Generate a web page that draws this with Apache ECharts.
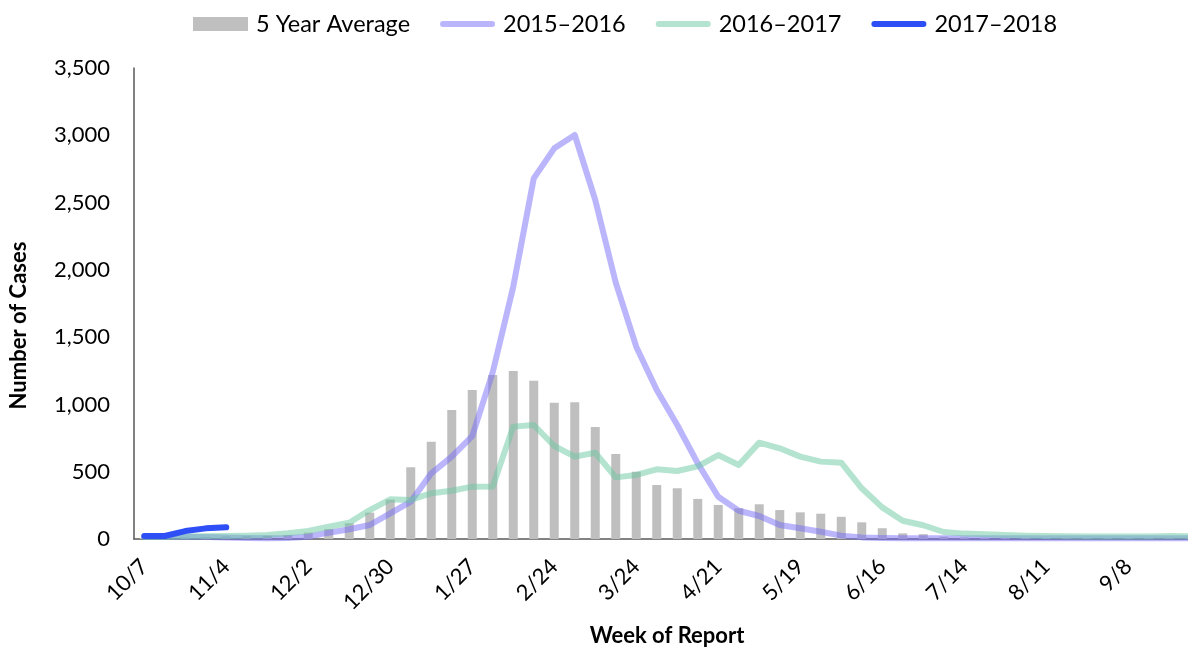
<!DOCTYPE html>
<html>
<head>
<meta charset="utf-8">
<script src="https://cdn.jsdelivr.net/npm/echarts@6/dist/echarts.min.js"></script>
<style>
  html, body { margin: 0; padding: 0; background: #fff; }
  #chart { width: 1188px; height: 650px; }
</style>
</head>
<body>
<div id="chart"></div>
<script>
// week of report (week ending)
const weeks = ['10/7', '10/14', '10/21', '10/28', '11/4', '11/11', '11/18', '11/25', '12/2', '12/9',
  '12/16', '12/23', '12/30', '1/6', '1/13', '1/20', '1/27', '2/3', '2/10', '2/17',
  '2/24', '3/3', '3/10', '3/17', '3/24', '3/31', '4/7', '4/14', '4/21', '4/28',
  '5/5', '5/12', '5/19', '5/26', '6/2', '6/9', '6/16', '6/23', '6/30', '7/7',
  '7/14', '7/21', '7/28', '8/4', '8/11', '8/18', '8/25', '9/1', '9/8', '9/15',
  '9/22', '9/29']

const fiveYearAvg = [8, 10, 12, 15, 18, 20, 25, 30, 47, 74,
  117, 196, 293, 533, 723, 959, 1107, 1219, 1248, 1176,
  1013, 1016, 832, 632, 500, 401, 377, 298, 253, 228,
  258, 215, 198, 188, 165, 124, 80, 42, 36, 17,
  12, 10, 10, 8, 8, 8, 8, 8, 8, 8,
  10, 10]

const season1516 = [15, 15, 15, 15, 12, 8, 5, 8, 17, 47,
  72, 104, 191, 277, 488, 612, 765, 1240, 1875, 2680,
  2903, 3002, 2519, 1905, 1429, 1107, 847, 562, 314, 210,
  171, 104, 80, 54, 25, 12, 8, 6, 5, 5,
  5, 5, 5, 5, 5, 5, 5, 5, 5, 5,
  5, 5]

const season1617 = [15, 15, 18, 20, 22, 25, 30, 42, 59, 91,
  121, 215, 295, 290, 340, 359, 389, 390, 835, 847,
  691, 612, 641, 458, 476, 518, 505, 540, 624, 550,
  716, 674, 612, 575, 567, 377, 235, 136, 102, 52,
  40, 35, 30, 25, 22, 20, 18, 18, 18, 18,
  22, 20]

const season1718 = [22, 22, 59, 79, 87]

const yTicks = { min: 0, max: 3500, interval: 500 }

const font = 'Lato'
// thick rounded line used as the legend swatch of the line series
const lineIcon = 'path://M3,0 H54 A3,3 0 0 1 54,6 H3 A3,3 0 0 1 3,0 Z'

const myChart = echarts.init(document.getElementById('chart'))
const option = {
  animation: false,
  textStyle: { fontFamily: font },
  legend: {
    left: 188,
    top: 7,
    itemWidth: 55,
    itemHeight: 14,
    itemGap: 30,
    textStyle: { fontSize: 23.5, color: '#000', fontFamily: font, padding: [0, 0, 0, 3] },
    data: [
      { name: '5 Year Average', icon: 'rect' },
      { name: '2015–2016', icon: lineIcon },
      { name: '2016–2017', icon: lineIcon },
      { name: '2017–2018', icon: lineIcon }
    ]
  },
  grid: {
    left: 134,
    top: 68,
    width: 1066,
    height: 471,
    containLabel: false,
    outerBoundsMode: 'none'
  },
  xAxis: {
    type: 'category',
    data: weeks,
    boundaryGap: true,
    name: 'Week of Report',
    nameLocation: 'middle',
    nameGap: 86,
    nameTextStyle: { fontSize: 22, fontWeight: 'bold', color: '#000', fontFamily: font },
    axisLine: { lineStyle: { color: '#595959', width: 1.5 } },
    axisTick: { show: false },
    axisLabel: {
      interval: 3,
      rotate: 45,
      margin: 24,
      fontSize: 22,
      color: '#000',
      fontFamily: font
    },
    splitLine: { show: false }
  },
  yAxis: {
    type: 'value',
    min: yTicks.min,
    max: yTicks.max,
    interval: yTicks.interval,
    name: 'Number of Cases',
    nameLocation: 'middle',
    nameGap: 104,
    nameRotate: 90,
    nameTextStyle: { fontSize: 22, fontWeight: 'bold', color: '#000', fontFamily: font, padding: [0, 44, 0, 0] },
    axisLine: { show: true, lineStyle: { color: '#595959', width: 1.5 } },
    axisTick: { show: false },
    axisLabel: {
      margin: 24,
      fontSize: 22,
      color: '#000',
      fontFamily: font,
      formatter: (value) => value.toLocaleString('en-US')
    },
    splitLine: { show: false }
  },
  series: [
    {
      name: '5 Year Average',
      type: 'bar',
      data: fiveYearAvg,
      barWidth: 9,
      itemStyle: { color: '#bfbfbf' },
      z: 1
    },
    {
      name: '2015–2016',
      type: 'line',
      data: season1516,
      symbol: 'none',
      itemStyle: { color: 'rgba(120,110,250,0.5)' },
      lineStyle: { color: 'rgba(120,110,250,0.5)', width: 6, cap: 'round', join: 'round' },
      z: 2
    },
    {
      name: '2016–2017',
      type: 'line',
      data: season1617,
      symbol: 'none',
      itemStyle: { color: 'rgba(105,201,161,0.5)' },
      lineStyle: { color: 'rgba(105,201,161,0.5)', width: 6, cap: 'round', join: 'round' },
      z: 3
    },
    {
      name: '2017–2018',
      type: 'line',
      data: season1718,
      symbol: 'none',
      itemStyle: { color: '#2e4ff6' },
      lineStyle: { color: '#2e4ff6', width: 6, cap: 'round', join: 'round' },
      z: 4
    }
  ]
}
myChart.setOption(option)
</script>
</body>
</html>
